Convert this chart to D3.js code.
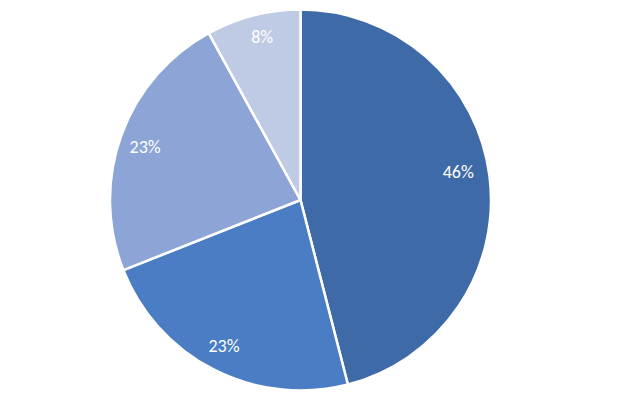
<!DOCTYPE html>
<html><head><meta charset="utf-8">
<script src="https://cdn.jsdelivr.net/npm/d3@7"></script>
<style>html,body{margin:0;padding:0;background:#fff;}svg{display:block;}</style>
</head><body>
<svg id="c" width="640" height="409"></svg>
<script>
const categories = ["A", "B", "C", "D"];
const values = [46, 23, 23, 8];
const labels = ["46%", "23%", "23%", "8%"];
const colors = ["#3E6BA8", "#4A7DC4", "#8CA5D6", "#BFCBE5"];

const svg = d3.select("#c");
const cx = 300.5, cy = 200, R = 190.5;
const labelNudge = [[-3, -8], [-3, 2], [-3, 2], [2, -6]];
const g = svg.append("g").attr("transform", `translate(${cx},${cy})`);
const pie = d3.pie().sort(null).value(d => d.v);
const data = pie(categories.map((c, i) => ({c, v: values[i], l: labels[i], col: colors[i], i})));
const arc = d3.arc().innerRadius(0).outerRadius(R);
const labelArc = d3.arc().innerRadius(162).outerRadius(162);
g.selectAll("path").data(data).join("path")
  .attr("d", arc).attr("fill", d => d.data.col)
  .attr("stroke", "#fff").attr("stroke-width", 2.5).attr("stroke-linejoin", "round");
g.selectAll("text").data(data).join("text")
  .attr("transform", d => {
    const [x, y] = labelArc.centroid(d);
    const [nx, ny] = labelNudge[d.data.i];
    return `translate(${x + nx},${y + ny})`;
  })
  .attr("text-anchor", "middle").attr("dominant-baseline", "central")
  .attr("fill", "#fff").attr("font-family", "Carlito, Lato, 'Open Sans', sans-serif")
  .attr("font-size", 18).text(d => d.data.l);
</script>
</body></html>
